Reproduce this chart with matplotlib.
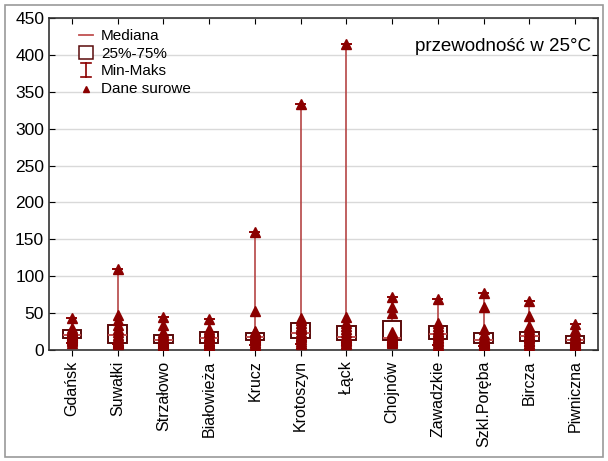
import matplotlib
matplotlib.use("Agg")
import matplotlib.pyplot as plt
from matplotlib.patches import Rectangle
from matplotlib.lines import Line2D
from matplotlib.legend_handler import HandlerBase

plt.rcParams['font.family'] = ['Liberation Sans', 'DejaVu Sans']

stations = ["Gdańsk", "Suwałki", "Strzałowo", "Białowieża", "Krucz", "Krotoszyn",
            "Łąck", "Chojnów", "Zawadzkie", "Szkl.Poręba", "Bircza", "Piwniczna"]

# summary statistics per station
med = [20.5, 21, 14, 16.5, 18, 23.5, 17.5, 16.5, 21.5, 13.5, 19, 14]
q1 = [16.5, 10, 9.5, 9.5, 14, 16, 13, 14, 15, 9, 12.5, 10]
q3 = [26.5, 34, 20, 25, 22.5, 36, 33, 39, 32.5, 23.5, 25, 19.5]
vmin = [10, 8, 5, 5, 7, 8, 8, 10, 7, 5, 6, 5]
vmax = [44, 110, 45, 42, 160, 333, 415, 72, 69, 77, 66, 35]

# raw measurements per station
raw_gdansk = [10, 12, 14, 15, 16, 17, 18, 19, 20, 21, 22, 23, 24, 26, 27, 30, 44]
raw_suwalki = [8, 9, 10, 11, 12, 14, 18, 21, 24, 28, 34, 40, 48, 110]
raw_strzalowo = [5, 6, 8, 9, 10, 11, 12, 13, 14, 15, 16, 18, 20, 22, 25, 34, 45]
raw_bialowieza = [5, 7, 9, 10, 12, 14, 16, 17, 19, 21, 24, 26, 28, 42]
raw_krucz = [7, 9, 11, 13, 14, 15, 16, 17, 18, 19, 20, 21, 22, 24, 26, 53, 160]
raw_krotoszyn = [8, 10, 12, 15, 17, 19, 21, 23, 25, 28, 30, 33, 36, 40, 43, 333]
raw_lack = [8, 10, 12, 13, 14, 16, 17, 18, 20, 24, 28, 32, 36, 45, 415]
raw_chojnow = [10, 11, 12, 13, 14, 15, 16, 17, 18, 20, 22, 25, 50, 58, 72]
raw_zawadzkie = [7, 10, 12, 14, 16, 18, 20, 22, 24, 26, 28, 32, 36, 69]
raw_szkl = [5, 6, 7, 8, 9, 10, 11, 12, 13, 14, 16, 18, 22, 28, 58, 77]
raw_bircza = [6, 8, 10, 12, 14, 16, 18, 19, 20, 22, 25, 28, 33, 46, 66]
raw_piwniczna = [5, 6, 7, 8, 9, 10, 11, 12, 13, 14, 15, 16, 18, 20, 22, 27, 35]
raw = [raw_gdansk, raw_suwalki, raw_strzalowo, raw_bialowieza, raw_krucz, raw_krotoszyn,
       raw_lack, raw_chojnow, raw_zawadzkie, raw_szkl, raw_bircza, raw_piwniczna]

yticks = [0, 50, 100, 150, 200, 250, 300, 350, 400, 450]

DARK = "#8b0000"
BOX_EDGE = "#5a0a0a"
MED_C = "#c05050"
WHISK_C = "#b54545"

fig = plt.figure(figsize=(6.08, 4.61), dpi=100)
fig.patches.append(Rectangle((5 / 608, 4 / 461), 598 / 608, 452 / 461, transform=fig.transFigure,
                             fill=False, edgecolor="#9a9a9a", linewidth=1.2))
ax = fig.add_axes([49 / 608, 1 - 350 / 461, 549 / 608, 332 / 461])

stats = [dict(med=m, q1=a, q3=b, whislo=lo, whishi=hi, label=s)
         for s, m, a, b, lo, hi in zip(stations, med, q1, q3, vmin, vmax)]
pos = list(range(len(stations)))
ax.bxp(stats, positions=pos, widths=0.4, showfliers=False, patch_artist=True,
       boxprops=dict(facecolor="white", edgecolor=BOX_EDGE, linewidth=1.4, zorder=2),
       medianprops=dict(color=MED_C, linewidth=1.4, zorder=3),
       whiskerprops=dict(color=WHISK_C, linewidth=1.2, zorder=1),
       capprops=dict(color=DARK, linewidth=1.4),
       capwidths=0.2)

for x, vals in zip(pos, raw):
    ax.plot([x] * len(vals), vals, linestyle="none", marker="^", markersize=6.5,
            color=DARK, markeredgecolor=DARK, zorder=4)

ax.set_xlim(-0.5, len(stations) - 0.5)
ax.set_ylim(0, 450)
ax.set_yticks(yticks)
ax.set_xticks(pos)
ax.set_xticklabels(stations, rotation=90, fontsize=11.5)
ax.tick_params(axis="y", labelsize=12.5, direction="in", right=True, length=4)
ax.tick_params(axis="x", direction="out", top=True, length=4)
for t in ax.xaxis.get_major_ticks():
    t.tick2line.set_marker(3)
ax.grid(axis="y", color="#d9d9d9", linewidth=1.0, zorder=0)
ax.set_axisbelow(True)
for sp in ax.spines.values():
    sp.set_color("#333333")
    sp.set_linewidth(1.2)

ax.text(0.988, 0.915, "przewodność w 25°C", transform=ax.transAxes,
        ha="right", va="center", fontsize=13.5)


class MinMaxHandler(HandlerBase):
    def create_artists(self, legend, orig_handle, xd, yd, width, height, fontsize, trans):
        cx = xd + width / 2
        top = yd + height + 1
        bot = yd - 1
        v = Line2D([cx, cx], [bot, top], color=DARK, linewidth=1.2, transform=trans)
        c1 = Line2D([cx - 3.5, cx + 3.5], [top, top], color=DARK, linewidth=1.2, transform=trans)
        c2 = Line2D([cx - 3.5, cx + 3.5], [bot, bot], color=DARK, linewidth=1.2, transform=trans)
        return [v, c1, c2]


class BoxHandler(HandlerBase):
    def create_artists(self, legend, orig_handle, xd, yd, width, height, fontsize, trans):
        cx = xd + width / 2
        r = Rectangle((cx - 5, yd - 1), 10, height + 2, facecolor="white",
                      edgecolor=BOX_EDGE, linewidth=1.1, transform=trans)
        return [r]


class MedHandler(HandlerBase):
    def create_artists(self, legend, orig_handle, xd, yd, width, height, fontsize, trans):
        cx = xd + width / 2
        ln = Line2D([cx - 5, cx + 5], [yd + height / 2] * 2, color=MED_C, linewidth=1.3,
                    transform=trans)
        return [ln]


class RawHandler(HandlerBase):
    def create_artists(self, legend, orig_handle, xd, yd, width, height, fontsize, trans):
        cx = xd + width / 2
        ln = Line2D([cx], [yd + height / 2 - 1], marker="^", markersize=4.5, color=DARK,
                    linestyle="none", transform=trans)
        return [ln]


h_med, h_box, h_mm, h_raw = object(), object(), object(), object()
leg = ax.legend([h_med, h_box, h_mm, h_raw], ["Mediana", "25%-75%", "Min-Maks", "Dane surowe"],
                handler_map={h_med: MedHandler(), h_box: BoxHandler(),
                             h_mm: MinMaxHandler(), h_raw: RawHandler()},
                loc="upper left", bbox_to_anchor=(0.035, 0.993), frameon=False, fontsize=11,
                handlelength=1.1, handletextpad=0.45, labelspacing=0.22, borderaxespad=0.2)

fig.savefig("out.png", dpi=100)
